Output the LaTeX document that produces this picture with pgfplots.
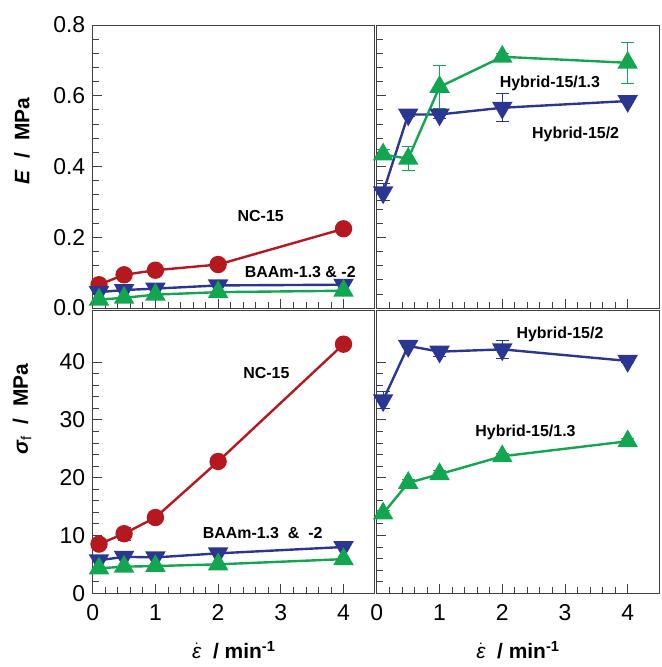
\documentclass[border=0pt]{standalone}
\usepackage{fontspec}
\setmainfont{Liberation Sans}
\usepackage{pgfplots}
\pgfplotsset{compat=1.18}
\usepgfplotslibrary{groupplots}
\definecolor{ncred}{HTML}{B5191F}
\definecolor{bblue}{HTML}{2B3592}
\definecolor{ggreen}{HTML}{12A650}
\newcommand{\lbl}{\fontsize{16}{18}\selectfont\bfseries}
\newcommand{\epsdot}{$\dot{\mbox{\mdseries\itshape ε}}$}
\pgfplotsset{
  panel/.style={scale only axis, width=283pt, height=284pt,
    xmin=0, xmax=4.5, xtick={0,1,2,3,4}, minor x tick num=4, minor y tick num=4,
    tick align=inside, xtick pos=bottom, ytick pos=left,
    axis line style={black!75, line width=0.8pt},
    tick style={black!75, line width=0.8pt},
    major tick length=9pt, minor tick length=6pt,
    ticklabel style={font=\fontsize{23}{26}\selectfont},
    xticklabel style={yshift=-8pt}, yticklabel style={xshift=-4pt},
    /pgf/number format/assume math mode=true, clip=false,
    every axis y label/.style={at={(rel axis cs:0,0.59)}, xshift=-71pt, rotate=90, anchor=center,
      font=\fontsize{21}{24}\selectfont\bfseries},
    every axis x label/.style={at={(rel axis cs:0.5,0)}, yshift=-57pt, anchor=center,
      font=\fontsize{21}{24}\selectfont\bfseries},
  },
  eb/.style={error bars/.cd, y dir=both, y explicit,
    error bar style={line width=1pt},
    error mark options={rotate=90, mark size=6.5pt, line width=1pt}},
  sred/.style={ncred, line width=2.4pt, mark=*, mark size=7.5pt},
  sblue/.style={bblue, line width=2.4pt, mark=triangle*, mark size=9.5pt, mark options={rotate=180}},
  sgreen/.style={ggreen, line width=2.4pt, mark=triangle*, mark size=9.5pt},
}
\begin{document}
\begin{tikzpicture}
\begin{groupplot}[group style={group size=2 by 2, horizontal sep=2pt, vertical sep=2pt}, panel]
% E, conventional gels
\nextgroupplot[ymin=0, ymax=0.8, ytick={0,0.2,0.4,0.6,0.8}, xticklabels={},
  yticklabel style={/pgf/number format/.cd, fixed, fixed zerofill, precision=1},
  ylabel={\textit{E}\ \ /\ \ MPa}]
\addplot[sred] coordinates {(0.1,0.066) (0.5,0.094) (1,0.107) (2,0.123) (4,0.224)};
\addplot[sblue] coordinates {(0.1,0.045) (0.5,0.051) (1,0.055) (2,0.064) (4,0.066)};
\addplot[sgreen] coordinates {(0.1,0.024) (0.5,0.029) (1,0.038) (2,0.045) (4,0.049)};
\node[font=\lbl] at (axis cs:2.68,0.261) {NC-15};
\node[font=\lbl] at (axis cs:3.31,0.101) {BAAm-1.3 \& -2};
% E, hybrid gels
\nextgroupplot[ymin=0, ymax=0.8, ytick={0,0.2,0.4,0.6,0.8}, xticklabels={}, yticklabels={}]
\addplot[sblue, eb] coordinates {(0.1,0.327) +- (0,0.024) (0.5,0.547) +- (0,0.005) (1,0.547) +- (0,0.01) (2,0.566) +- (0,0.04) (4,0.585) +- (0,0.005)};
\addplot[sgreen, eb] coordinates {(0.1,0.434) +- (0,0.015) (0.5,0.422) +- (0,0.034) (1,0.625) +- (0,0.06) (2,0.710) +- (0,0.008) (4,0.693) +- (0,0.058)};
\node[font=\lbl] at (axis cs:2.76,0.635) {Hybrid-15/1.3};
\node[font=\lbl] at (axis cs:3.17,0.49) {Hybrid-15/2};
% sigma_f, conventional gels
\nextgroupplot[ymin=0, ymax=49, ytick={0,10,20,30,40},
  ylabel={\textit{σ}\textsubscript{\normalfont f}\ \ /\ \ MPa},
  xlabel={\epsdot\ \ / min\textsuperscript{-1}},
  every axis y label/.append style={at={(rel axis cs:0,0.65)}}]
\addplot[sred, eb] coordinates {(0.1,8.5) +- (0,0.5) (0.5,10.3) +- (0,1.1) (1,13.1) +- (0,0.5) (2,22.8) +- (0,0.5) (4,43.1) +- (0,1.0)};
\addplot[sblue] coordinates {(0.1,5.7) (0.5,6.3) (1,6.2) (2,6.9) (4,8.0)};
\addplot[sgreen] coordinates {(0.1,4.3) (0.5,4.6) (1,4.7) (2,5.0) (4,5.9)};
\node[font=\lbl] at (axis cs:2.77,38.1) {NC-15};
\node[font=\lbl] at (axis cs:2.71,10.5) {BAAm-1.3\ \ \&\ \ -2};
% sigma_f, hybrid gels
\nextgroupplot[ymin=0, ymax=49, ytick={0,10,20,30,40}, yticklabels={},
  xlabel={\epsdot\ \ / min\textsuperscript{-1}}]
\addplot[sblue, eb] coordinates {(0.1,33.4) +- (0,1.5) (0.5,42.8) +- (0,0.3) (1,41.8) +- (0,0.8) (2,42.2) +- (0,1.5) (4,40.2) +- (0,0.3)};
\addplot[sgreen, eb] coordinates {(0.1,13.8) +- (0,0.5) (0.5,19.1) +- (0,0.5) (1,20.6) +- (0,0.6) (2,23.7) +- (0,0.5) (4,26.3) +- (0,0.5)};
\node[font=\lbl] at (axis cs:2.92,44.8) {Hybrid-15/2};
\node[font=\lbl] at (axis cs:2.37,27.8) {Hybrid-15/1.3};
\end{groupplot}
\path ([shift={(-93pt,25pt)}]group c1r1.north west) rectangle ([shift={(2pt,-74pt)}]group c2r2.south east);
\end{tikzpicture}
\end{document}
